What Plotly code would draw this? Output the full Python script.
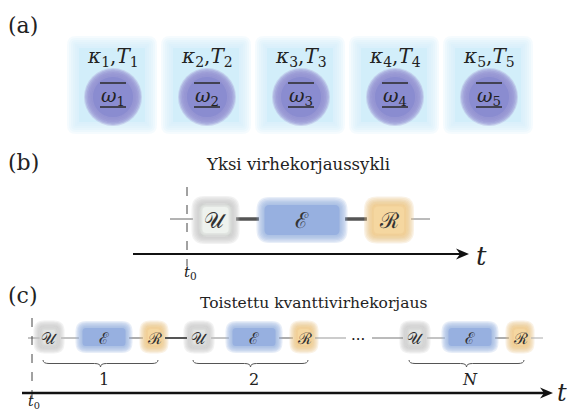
import plotly.graph_objects as go

# ---------------- content ----------------
QUBITS = ["1", "2", "3", "4", "5"]
OPERATIONS = ["U", "E", "R"]
CYCLES = ["1", "2", "N"]
PANELS = ["(a)", "(b)", "(c)"]
TITLE_B = "Yksi virhekorjaussykli"
TITLE_C = "Toistettu kvanttivirhekorjaus"
SYMBOL = {"U": "𝒰", "E": "ℰ", "R": "ℛ"}

# ---------------- style ----------------
W, H = 567, 410
SERIF = "DejaVu Serif"
SYMF = "DejaVu Serif"
TXT = "#222222"
SQ_BLUE = "#d2eefa"
CIRC = "#8a8cd0"
CIRC_EDGE = "#b4b5e2"
U_EDGE = "#c4c6c4"
U_FILL = "#eef2ee"
U_FILL_C = "#e2e4e2"
E_FILL = "#97b0e0"
R_FILL = "#f5d7a0"
R_EDGE = "#e9c48a"

shapes = []
ann = []


def rr_path(x0, y0, x1, y1, r):
    r = max(0.0, min(r, (x1 - x0) / 2, (y1 - y0) / 2))
    return (f"M{x0+r},{y0} L{x1-r},{y0} Q{x1},{y0} {x1},{y0+r} "
            f"L{x1},{y1-r} Q{x1},{y1} {x1-r},{y1} L{x0+r},{y1} "
            f"Q{x0},{y1} {x0},{y1-r} L{x0},{y0+r} Q{x0},{y0} {x0+r},{y0} Z")


def soft_rect(cx, cy, w, h, r, color, spread, n=7, alpha=0.22, core=True):
    for k in range(n):
        e = spread / 2 - k * spread / (n - 1)
        shapes.append(dict(type="path", xref="x", yref="y",
                           path=rr_path(cx - w/2 - e, cy - h/2 - e, cx + w/2 + e, cy + h/2 + e, r + e),
                           fillcolor=color, opacity=alpha, line=dict(width=0)))
    if core:
        e = -spread / 2
        shapes.append(dict(type="path", xref="x", yref="y",
                           path=rr_path(cx - w/2 - e, cy - h/2 - e, cx + w/2 + e, cy + h/2 + e, r + e),
                           fillcolor=color, opacity=1, line=dict(width=0)))


def soft_circle(cx, cy, rad, color, spread, n=7, alpha=0.25):
    for k in range(n):
        e = spread / 2 - k * spread / (n - 1)
        rr = rad + e
        shapes.append(dict(type="circle", xref="x", yref="y", x0=cx - rr, x1=cx + rr, y0=cy - rr, y1=cy + rr,
                           fillcolor=color, opacity=alpha, line=dict(width=0)))
    rr = rad - spread / 2
    shapes.append(dict(type="circle", xref="x", yref="y", x0=cx - rr, x1=cx + rr, y0=cy - rr, y1=cy + rr,
                       fillcolor=color, opacity=1, line=dict(width=0)))


def line(x0, y0, x1, y1, color, width, dash="solid"):
    shapes.append(dict(type="line", xref="x", yref="y", x0=x0, y0=y0, x1=x1, y1=y1,
                       line=dict(color=color, width=width, dash=dash)))


def arrow_head(xt, y, size=1.0):
    p = f"M{xt},{y} L{xt-13*size},{y-5.5*size} L{xt-9*size},{y} L{xt-13*size},{y+5.5*size} Z"
    shapes.append(dict(type="path", xref="x", yref="y", path=p, fillcolor="#111111", line=dict(width=0)))


def brace(xa, xb, y0, d=7, color="#555555"):
    xm = (xa + xb) / 2
    ym = y0 + d / 2
    r = 6
    p = (f"M{xa},{y0} Q{xa},{ym} {xa+r},{ym} L{xm-r},{ym} Q{xm},{ym} {xm},{y0+d} "
         f"Q{xm},{ym} {xm+r},{ym} L{xb-r},{ym} Q{xb},{ym} {xb},{y0}")
    shapes.append(dict(type="path", xref="x", yref="y", path=p, line=dict(color=color, width=1)))


def text(x, y, s, size, color=TXT, xanchor="center", font=SERIF, yanchor="middle"):
    ann.append(dict(x=x, y=y, xref="x", yref="y", text=s, showarrow=False,
                    font=dict(family=font, size=size, color=color),
                    xanchor=xanchor, yanchor=yanchor, borderpad=0))


# ---------------- panel (a) ----------------
text(7, 25, PANELS[0], 22, xanchor="left")
SQ_X0, SQ_DX = 112, 94
for i, q in enumerate(QUBITS):
    cx = SQ_X0 + i * SQ_DX
    soft_rect(cx, 85, 78, 86, 3, SQ_BLUE, 12)
    soft_circle(cx + 1, 97, 27, CIRC_EDGE, 4, n=4, alpha=0.5)
    soft_circle(cx + 1, 97, 24, CIRC, 8, n=6, alpha=0.25)
    text(cx + 1, 57, f"<i>κ</i><sub>{q}</sub>,<i>T</i><sub>{q}</sub>", 20)
    text(cx + 1, 96, f"<i>ω</i><sub>{q}</sub>", 19)
    line(cx - 12, 83, cx + 14, 83, "#2a2a2a", 1.5)
    line(cx - 12, 107, cx + 14, 107, "#2a2a2a", 1.5)

# ---------------- panel (b) ----------------
text(7, 162, PANELS[1], 22, xanchor="left")
text(298, 164, TITLE_B, 16.5)
YB = 219
B_CENTERS = {"U": 215.5, "E": 302, "R": 389}
B_WIDTHS = {"U": 38, "E": 83, "R": 41}
line(170, YB, 193, YB, "#666666", 1)
line(236, YB, 259, YB, "#555555", 3.5)
line(345, YB, 367, YB, "#555555", 3.5)
line(411, YB, 430, YB, "#777777", 1)
line(187, 187, 187, 266, "#444444", 1, "dash")
for op in OPERATIONS:
    cx, w = B_CENTERS[op], B_WIDTHS[op]
    if op == "U":
        soft_rect(cx, YB + 1, w + 2, 40, 9, U_EDGE, 8)
        soft_rect(cx, YB + 1, w - 8, 30, 6, U_FILL, 4)
    elif op == "E":
        soft_rect(cx, YB + 1, w, 38, 9, E_FILL, 8)
    else:
        soft_rect(cx, YB + 1, w + 1, 39, 9, R_EDGE, 8)
        soft_rect(cx, YB + 1, w - 6, 32, 7, R_FILL, 5)
    text(cx, YB + 1, SYMBOL[op], 22, color="#333333", font=SYMF)
line(133, 254, 462, 254, "#111111", 2)
arrow_head(469, 254)
text(481, 256, "<i>t</i>", 26)
text(190, 272, "<i>t</i><sub>0</sub>", 15)

# ---------------- panel (c) ----------------
text(7, 295, PANELS[2], 22, xanchor="left")
text(313, 303, TITLE_C, 15.5)
YC = 338
C_STARTS = {"1": 49, "2": 199, "N": 415}
C_OFFS = {"U": 0, "E": 55, "R": 105}
C_W = {"U": 22, "E": 50, "R": 20}
line(28, YC, 40, YC, "#888888", 1)
line(32, 318, 32, 400, "#444444", 1, "dash")
for cyc in CYCLES:
    u = C_STARTS[cyc]
    line(u + 12, YC, u + C_OFFS["E"] - 25, YC, "#888888", 1)
    line(u + C_OFFS["E"] + 25, YC, u + C_OFFS["R"] - 11, YC, "#777777", 1.2)
    for op in OPERATIONS:
        cx = u + C_OFFS[op]
        w = C_W[op]
        if op == "U":
            soft_rect(cx, YC - 1, w + 2, 26, 7, U_EDGE, 7)
            soft_rect(cx, YC - 1, w - 6, 18, 4, U_FILL_C, 4)
        elif op == "E":
            soft_rect(cx, YC - 1, w, 25, 7, E_FILL, 7)
        else:
            soft_rect(cx, YC - 1, w + 2, 26, 7, R_EDGE, 7)
            soft_rect(cx, YC - 1, w - 4, 20, 5, R_FILL, 4)
        text(cx, YC, SYMBOL[op], 16, color="#333333", font=SYMF)
    brace(u - 6, u + C_OFFS["R"] + 4, 360)
    lab = f"<i>{cyc}</i>" if cyc == "N" else cyc
    text(u + C_OFFS["E"], 379, lab, 16)
# connectors between cycles
line(C_STARTS["1"] + 116, YC, C_STARTS["2"] - 12, YC, "#555555", 2)
line(C_STARTS["2"] + 116, YC, 346, YC, "#999999", 1)
text(358, 339, "···", 15, color="#111111")
line(372, YC, C_STARTS["N"] - 12, YC, "#777777", 1)
line(C_STARTS["N"] + 116, YC, 543, YC, "#aaaaaa", 1)
line(22, 393, 545, 393, "#111111", 2.5)
arrow_head(553, 393)
text(562, 393, "<i>t</i>", 24)
text(34, 402, "<i>t</i><sub>0</sub>", 14)

fig = go.Figure(go.Scatter(x=[], y=[]))
fig.update_layout(
    width=W, height=H, margin=dict(l=0, r=0, t=0, b=0),
    paper_bgcolor="white", plot_bgcolor="white", showlegend=False,
    font=dict(family=SERIF),
    xaxis=dict(range=[0, W], visible=False, fixedrange=True),
    yaxis=dict(range=[H, 0], visible=False, fixedrange=True),
    shapes=shapes, annotations=ann,
)
fig.write_html("out.html", config={"displayModeBar": False},
               post_script="document.body.style.margin='0';document.body.style.overflow='hidden';")
